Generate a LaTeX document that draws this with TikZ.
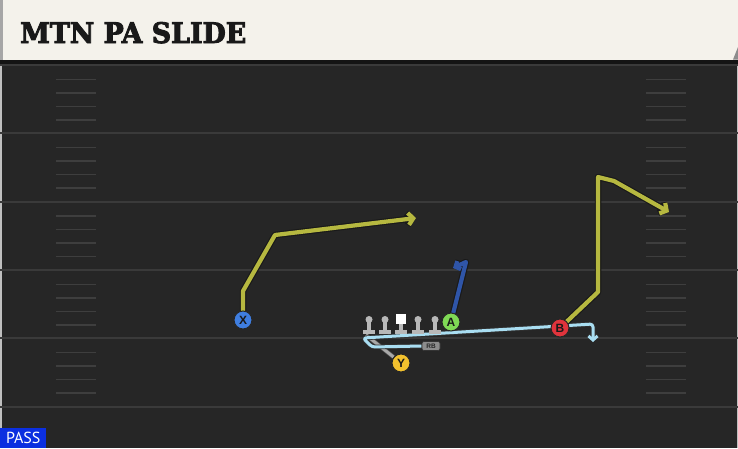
\documentclass[tikz,border=0pt]{standalone}
\usepackage{fontspec}
\setmainfont{Liberation Sans}
\newfontfamily\titlefont{DejaVu Serif Condensed}[FakeBold=3]
\newfontfamily\passfont{PT Sans}
\usetikzlibrary{arrows.meta}
\definecolor{fieldbg}{HTML}{262626}
\definecolor{yardc}{HTML}{3A3A3A}
\definecolor{hashc}{HTML}{3E3E3E}
\definecolor{headbg}{HTML}{F4F2EB}
\definecolor{olivec}{HTML}{B6B840}
\definecolor{bluerc}{HTML}{2F55A8}
\definecolor{skyc}{HTML}{A9DEF2}
\definecolor{greyrc}{HTML}{A8A8A8}
\definecolor{xblue}{HTML}{3F7EE0}
\definecolor{agreen}{HTML}{7FD955}
\definecolor{bred}{HTML}{E0343C}
\definecolor{yyellow}{HTML}{F2C12E}
\definecolor{linec}{HTML}{B8B8B8}
\definecolor{passblue}{HTML}{0B2FE0}
\pgfdeclarelayer{field}
\pgfdeclarelayer{routes}
\pgfsetlayers{field,routes,main}
\tikzset{
  yard/.style={draw=yardc, line width=2pt},
  hash/.style={draw=hashc, line width=1.6pt},
  rtout/.style={draw=black!90, line width=6.5pt, line join=round, line cap=round},
  rtin/.style={draw=#1, line width=4.2pt, line join=round, line cap=round},
  thinout/.style={draw=black!80, line width=4.6pt, line join=round},
  thinin/.style={draw=#1, line width=3pt, line join=round},
  tipbig/.style={-{Straight Barb[length=5pt,width=12pt]}},
  tipsmall/.style={-{Straight Barb[length=4pt,width=9pt]}},
  player/.style={circle, draw=black!85, line width=1pt, fill=#1, minimum size=18pt, inner sep=0pt,
    font=\fontsize{12}{12}\selectfont\bfseries, text=black!90},
  lmhead/.style={circle, fill=linec, minimum size=7pt, inner sep=0pt},
}
\begin{document}
\begin{tikzpicture}[x=1pt,y=-1pt]
\useasboundingbox (0,0) rectangle (738,448);
\begin{pgfonlayer}{field}
  \fill[fieldbg] (0,0) rectangle (738,448);
  \fill[black!25] (0,59) rectangle (1.5,448);
  \fill[black!25] (736.5,59) rectangle (738,448);
  \foreach \y in {65,133,201.5,270,338,406.5}
    \draw[yard] (0,\y) -- (738,\y);
  \foreach \b in {65,133,201.5,270,338}
    \foreach \o in {14.5,28,41.5,55} {
      \draw[hash] (56,\b+\o) -- (96,\b+\o);
      \draw[hash] (646,\b+\o) -- (686,\b+\o);
    }
  % header
  \fill[black!92] (0,59) rectangle (738,64);
  \fill[headbg] (0,0) rectangle (738,59.5);
  \fill[black!35] (0,0) rectangle (3,59.5);
  \fill[black!45] (738,47) -- (738,59.5) -- (733,59.5) -- cycle;
\end{pgfonlayer}

\node[anchor=base west, inner sep=0pt, text=black!90] (title) at (20,43)
  {\resizebox{226pt}{21pt}{\titlefont\bfseries MTN PA SLIDE}};

% players
\node[player=xblue] (X) at (243,320) {X};
\node[player=agreen] (A) at (451,322) {A};
\node[player=bred] (B) at (560,328) {B};
\node[player=yyellow] (Y) at (401,363) {Y};
\node[fill=black!45, draw=black!80, line width=0.6pt, rounded corners=2pt, inner sep=0pt,
  minimum width=18pt, minimum height=9pt, font=\fontsize{6.5}{6.5}\selectfont\bfseries, text=black!85]
  (RB) at (431,346) {RB};

% offensive line
\foreach \n/\x in {lt/369,lg/385,rg/418,rt/435} {
  \fill[linec] (\x-1.7,320) rectangle (\x+1.7,331);
  \fill[linec] (\x-6,330) rectangle (\x+6,333.5);
  \node[lmhead] (\n) at (\x,319.5) {};
}
\fill[linec] (399.3,322) rectangle (402.7,331);
\fill[linec] (395,330) rectangle (407,333.5);
\node[fill=white, minimum size=10pt, inner sep=0pt] (C) at (401,319) {};

% route waypoints
\coordinate (xa) at (243,291);
\coordinate (xb) at (275,235);
\coordinate (xe) at (416,218);
\coordinate (aa) at (466,262);
\coordinate (ae) at (453,268);
\coordinate (ba) at (598,292);
\coordinate (bb) at (598,177);
\coordinate (bc) at (614,181);
\coordinate (be) at (669,212);
\coordinate (r1) at (372,347);
\coordinate (r2) at (363,338);
\coordinate (r3) at (593,324);
\coordinate (re) at (593,342);
\coordinate (ys) at (366,335);

\begin{pgfonlayer}{routes}
  % Y route
  \draw[draw=black!70, line width=4.4pt] (Y) -- (ys);
  \draw[draw=greyrc, line width=3pt] (Y) -- (ys);
  % RB route
  \draw[thinout, tipsmall, rounded corners=3pt] (RB.west) -- (r1) -- (r2) -- (r3) -- (re);
  \draw[thinin=skyc, tipsmall, rounded corners=3pt] (RB.west) -- (r1) -- (r2) -- (r3) -- (re);
  % X route
  \draw[rtout, tipbig] (X) -- (xa) -- (xb) -- (xe);
  \draw[rtin=olivec, tipbig] (X) -- (xa) -- (xb) -- (xe);
  % B route
  \draw[rtout, tipbig] (B) -- (ba) -- (bb) -- (bc) -- (be);
  \draw[rtin=olivec, tipbig] (B) -- (ba) -- (bb) -- (bc) -- (be);
  % A route
  \draw[rtout, tipsmall] (A) -- (aa) -- (ae);
  \draw[rtin=bluerc, tipsmall] (A) -- (aa) -- (ae);
\end{pgfonlayer}

\node[fill=passblue, anchor=south west, minimum width=46pt, minimum height=20pt, inner sep=0pt,
  text=white, font=\passfont\fontsize{16}{16}\selectfont] (pass) at (0,448) {PASS};
\end{tikzpicture}
\end{document}
